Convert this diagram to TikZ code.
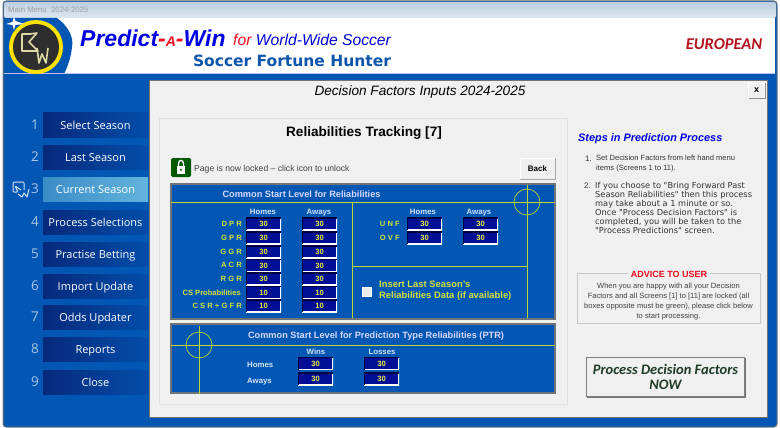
\documentclass[tikz,border=0pt]{standalone}
\usepackage{fontspec}
\setmainfont{Liberation Sans}
\newfontfamily\menufont{Open Sans}
\newfontfamily\verdfont{DejaVu Sans}
\newfontfamily\carfont{Carlito}
\definecolor{wblue}{HTML}{0257B5}
\definecolor{panelgrey}{HTML}{F0F0F0}
\definecolor{rimgrey}{HTML}{6E7478}
\definecolor{limeline}{HTML}{B9D62E}
\definecolor{limetext}{HTML}{D2E23C}
\definecolor{valtext}{HTML}{E8E83A}
\definecolor{inblue}{HTML}{000E96}
\definecolor{navybtn}{HTML}{06297C}
\definecolor{numblue}{HTML}{A9C8E8}
\definecolor{headblue}{HTML}{0F55AC}
\definecolor{purered}{HTML}{F00A1E}
\definecolor{eurored}{HTML}{B4121E}
\definecolor{nowgreen}{HTML}{1C3A24}
\definecolor{barlight}{HTML}{DCE6F0}
\definecolor{bardark}{HTML}{BFCFDF}
\definecolor{curleft}{HTML}{3A8CC6}
\definecolor{curright}{HTML}{62B4DE}
\newcommand{\pxf}[1]{\fontsize{#1}{#1}\selectfont}
\tikzset{
  lbl/.style={inner sep=0pt,text=#1},
  menubtn/.style={minimum width=105pt,minimum height=24pt,inner sep=0pt,left color=navybtn,middle color=navybtn!92!wblue,right color=wblue!80!navybtn,text=white,text height=10pt,text depth=1.5pt,font=\menufont\pxf{11}},
  menunum/.style={inner sep=0pt,text=numblue,font=\menufont\pxf{13.5}},
  inbox/.style={minimum width=35pt,minimum height=12.5pt,inner sep=0pt,fill=inblue,text=valtext,font=\bfseries\pxf{7.6},
    path picture={\draw[white,line width=2.4pt] (path picture bounding box.south west) -- (path picture bounding box.south east) -- (path picture bounding box.north east);
    \draw[black!75!blue,line width=2pt] (path picture bounding box.south west) -- (path picture bounding box.north west) -- (path picture bounding box.north east);}},
  rowlbl/.style={inner sep=0pt,anchor=east,text=limetext,text height=6pt,text depth=0pt,font=\bfseries\pxf{7.6}},
  headlbl/.style={inner sep=0pt,text=numblue!50!white,text height=6pt,text depth=0pt,font=\bfseries\pxf{7.8}},
  panelbox/.style={fill=wblue,draw=rimgrey,line width=1.8pt},
  limeln/.style={draw=limeline,line width=.7pt},
  greybtn/.style={fill=panelgrey,draw=none,inner sep=0pt},
}
\begin{document}
\begin{tikzpicture}[x=1pt,y=-1pt]
\useasboundingbox (0,0) rectangle (780,428);
\fill[white] (0,0) rectangle (780,428);
\draw[rimgrey,fill=wblue,line width=1pt,rounded corners=3pt] (3,1) rectangle (777,427);
\shade[top color=bardark,bottom color=barlight,rounded corners=2pt] (4,2) rectangle (776,18);
\node (menutitle) at (8,10) [lbl=black!38,anchor=west,font=\pxf{7.8}] {Main Menu\ \ 2024-2025};
\fill[white] (4,18) rectangle (775,74);
\fill[wblue] (4,18) -- (57,18) .. controls (68,26) and (74,37) .. (72,47) .. controls (71,57) and (68,66) .. (64,74) -- (4,74) -- cycle;
\fill[black!10!blue!25] (4,73.5) rectangle (775,74);
% logo
\fill[yellow!85!orange] (36,47) circle (27);
\fill[black!82] (36,47) circle (23);
\draw[yellow!30!white!85!black,line width=1.6pt,line join=round] (30,34) -- (22,34) -- (22,51) -- (38,51) -- (29,42) -- (37,33) -- (30,34);
\draw[yellow!30!white!85!black,line width=1.6pt,line join=round] (37,48) -- (39,63) -- (42,54) -- (46,63) -- (48,48);
\fill[white] (14,17) -- (15.5,21) -- (24,24) -- (15.5,25) -- (14,30) -- (12.5,25) -- (6,24) -- (12.5,22) -- cycle;
\node (brandone) at (80,38) [lbl=blue!90!black,anchor=west,font=\bfseries\itshape\pxf{23}] {Predict\textcolor{purered}{-{\pxf{14}A}-}Win};
\node (brandtwo) at (233,40) [lbl=purered,anchor=west,font=\itshape\pxf{15.7}] {for \textcolor{blue!85!black}{World-Wide Soccer}};
\node (brandsub) at (292,60.5) [lbl=headblue,font=\verdfont\bfseries\pxf{15.5}] {Soccer Fortune Hunter};
\node (region) at (724,44) [lbl=eurored,font=\carfont\bfseries\itshape\pxf{16.5}] {EUROPEAN};
% main panel
\draw[fill=panelgrey,draw=black!55,line width=.5pt] (149,80) rectangle (767,417);
\node (pagetitle) at (420,91.5) [lbl=black,font=\itshape\pxf{13.6}] {Decision Factors Inputs 2024-2025};
\node (closebtn) at (756.5,90.5) [fill=panelgrey,draw=white,minimum width=16pt,minimum height=15pt,inner sep=0pt,font=\bfseries\pxf{9}] {x};
\draw[black!45,line width=.8pt] (749,98.5) -- (765,98.5) -- (765,83);
% left menu
\node (menunumone) at (35,125) [menunum] {1};
\node (menunumtwo) at (35,157) [menunum] {2};
\node (menunumthr) at (35,189) [menunum] {3};
\node (menunumfou) at (35,222) [menunum] {4};
\node (menunumfiv) at (35,254) [menunum] {5};
\node (menunumsix) at (35,286) [menunum] {6};
\node (menunumsev) at (35,317) [menunum] {7};
\node (menunumeig) at (35,349) [menunum] {8};
\node (menunumnin) at (35,382) [menunum] {9};
\node (selectseason) at (95.5,125) [menubtn] {Select Season};
\node (lastseason) at (95.5,157) [menubtn] {Last Season};
\node (currentseason) at (95.5,189.5) [menubtn,left color=curleft,middle color=curleft!50!curright,right color=curright] {Current Season};
\node (processsel) at (95.5,222) [menubtn] {Process Selections};
\node (practisebet) at (95.5,254) [menubtn] {Practise Betting};
\node (importupd) at (95.5,286.5) [menubtn] {Import Update};
\node (oddsupd) at (95.5,317) [menubtn] {Odds Updater};
\node (reports) at (95.5,349.5) [menubtn] {Reports};
\node (closemenu) at (95.5,382) [menubtn] {Close};
\draw[numblue!50!white,line width=1pt,line join=round,rounded corners=1pt] (24,190) -- (24,182) -- (13,182) -- (13,192) -- (18,192) -- (15,186) -- (21,190);
\draw[numblue!50!white,line width=1pt,line join=round] (18,194) -- (22,197) -- (24,193) -- (27,197) -- (29,189);
% inner frame
\draw[fill=panelgrey,draw=black!12,line width=1pt] (159,119) rectangle (567,404);
\node (tracktitle) at (364,133.5) [lbl=black,font=\bfseries\pxf{13.6}] {Reliabilities Tracking [7]};
\fill[green!35!black,rounded corners=1.5pt] (171,158) rectangle (191,177);
\fill[white] (177,166) rectangle (185,174);
\draw[white,line width=1.4pt] (178.5,166) -- (178.5,163.5) .. controls (178.5,159.5) and (183.5,159.5) .. (183.5,163.5) -- (183.5,166);
\fill[green!35!black] (181,170) circle (1.2);
\node (locknote) at (194,169) [lbl=black!75,anchor=west,font=\pxf{8.6}] {Page is now locked -- click icon to unlock};
\node (backbtn) at (537.5,168.5) [greybtn,draw=white,minimum width=35pt,minimum height=21pt,font=\bfseries\pxf{8}] {Back};
\draw[black!35,line width=.8pt] (520,179.5) -- (555.5,179.5) -- (555.5,158);
% reliabilities box
\draw[panelbox] (171,184) rectangle (555,319);
\draw[limeln] (171,202) -- (555,202);
\draw[limeln] (352,202) -- (352,318);
\draw[limeln] (527,185) -- (527,318);
\draw[limeln] (352,266) -- (527,266);
\draw[limeln] (527,202) circle (13);
\node (reltitle) at (301.5,194) [headlbl,text=white!85!blue,font=\bfseries\pxf{9.2}] {Common Start Level for Reliabilities};
\node (homesleft) at (263,211) [headlbl] {Homes};
\node (awaysleft) at (319,211) [headlbl] {Aways};
\node (homesright) at (423,211) [headlbl] {Homes};
\node (awaysright) at (479,211) [headlbl] {Aways};
\node (dprlbl) at (242,223.5) [rowlbl] {D P R};
\node (gprlbl) at (242,237.5) [rowlbl] {G P R};
\node (ggrlbl) at (242,251.5) [rowlbl] {G G R};
\node (acrlbl) at (242,264.5) [rowlbl] {A C R};
\node (rgrlbl) at (242,278.5) [rowlbl] {R G R};
\node (csplbl) at (241,292.5) [rowlbl] {CS Probabilities};
\node (csrlbl) at (242,305.5) [rowlbl] {C S R + G F R};
\node (dprh) at (263.5,224) [inbox] {30};
\node (gprh) at (263.5,238) [inbox] {30};
\node (ggrh) at (263.5,252) [inbox] {30};
\node (acrh) at (263.5,265.5) [inbox] {30};
\node (rgrh) at (263.5,279) [inbox] {30};
\node (csph) at (263.5,292.5) [inbox] {10};
\node (csrh) at (263.5,306) [inbox] {10};
\node (dpra) at (319.5,224) [inbox] {30};
\node (gpra) at (319.5,238) [inbox] {30};
\node (ggra) at (319.5,252) [inbox] {30};
\node (acra) at (319.5,265.5) [inbox] {30};
\node (rgra) at (319.5,279) [inbox] {30};
\node (cspa) at (319.5,292.5) [inbox] {10};
\node (csra) at (319.5,306) [inbox] {10};
\node (unflbl) at (400,223) [rowlbl] {U N F};
\node (ovflbl) at (400,237) [rowlbl] {O V F};
\node (unfh) at (424.5,224) [inbox] {30};
\node (ovfh) at (424.5,238) [inbox] {30};
\node (unfa) at (480.5,224) [inbox] {30};
\node (ovfa) at (480.5,238) [inbox] {30};
\node (insertbox) at (367,291.5) [fill=black!8,draw=white,line width=.8pt,minimum size=9pt,inner sep=0pt] {};
\node (inserttxt) at (379,290.5) [lbl=limetext,anchor=west,align=left,font=\bfseries\fontsize{9.4}{11.4}\selectfont] {Insert Last Season's\\Reliabilities Data (if available)};
% PTR box
\draw[panelbox] (171,324) rectangle (555,393);
\draw[limeln] (171,345) -- (555,345);
\draw[limeln] (199,326) -- (199,394);
\draw[limeln] (199,345) circle (13);
\node (ptrtitle) at (376,335) [headlbl,text=white!85!blue,font=\bfseries\pxf{9.2}] {Common Start Level for Prediction Type Reliabilities (PTR)};
\node (winslbl) at (316,351) [headlbl] {Wins};
\node (losseslbl) at (382,351) [headlbl] {Losses};
\node (homesptr) at (247,364) [headlbl,anchor=west] {Homes};
\node (awaysptr) at (247,380) [headlbl,anchor=west] {Aways};
\node (winh) at (315.5,363.5) [inbox] {30};
\node (winaw) at (315.5,379) [inbox] {30};
\node (lossh) at (381.5,363.5) [inbox] {30};
\node (lossaw) at (381.5,379) [inbox] {30};
% right column
\node (stepstitle) at (578,139) [lbl=blue!90!black,anchor=west,font=\bfseries\itshape\pxf{10.9}] {Steps in Prediction Process};
\node (stepone) at (585,158.5) [lbl=black!80,anchor=west,font=\pxf{8}] {1.};
\node (steponetxt) at (596,163.5) [lbl=black!80,anchor=west,align=left,font=\fontsize{7.55}{10}\selectfont] {Set Decision Factors from left hand menu\\items (Screens 1 to 11).};
\node (steptwo) at (584,185.5) [lbl=black!80,anchor=west,font=\pxf{8}] {2.};
\node (steptwotxt) at (595,207.5) [lbl=black!80,anchor=west,align=left,font=\verdfont\fontsize{8.25}{9}\selectfont] {If you choose to "Bring Forward Past\\Season Reliabilities" then this process\\may take about a 1 minute or so.\\Once "Process Decision Factors" is\\completed, you will be taken to the\\"Process Predictions" screen.};
\draw[black!22,line width=.8pt] (577,273.5) rectangle (760,323.5);
\node (advice) at (669,274) [lbl=purered,fill=panelgrey,inner xsep=3pt,font=\bfseries\pxf{9}] {ADVICE TO USER};
\node (advicetxt) at (668.5,301.5) [lbl=black!75,align=center,font=\fontsize{7.55}{9.9}\selectfont] {When you are happy with all your Decision\\Factors and all Screens [1] to [11] are locked (all\\boxes opposite must be green), please click below\\to start processing.};
\node (processbtn) at (665.5,377) [fill=panelgrey,draw=black!50,line width=1.3pt,minimum width=158pt,minimum height=39pt,inner sep=0pt,text=nowgreen,align=center,font=\carfont\bfseries\itshape\fontsize{14.5}{15.5}\selectfont] {Process Decision Factors\\NOW};
\draw[black!55,line width=1.4pt] (587,397.5) -- (745.5,397.5) -- (745.5,358);
\end{tikzpicture}
\end{document}
